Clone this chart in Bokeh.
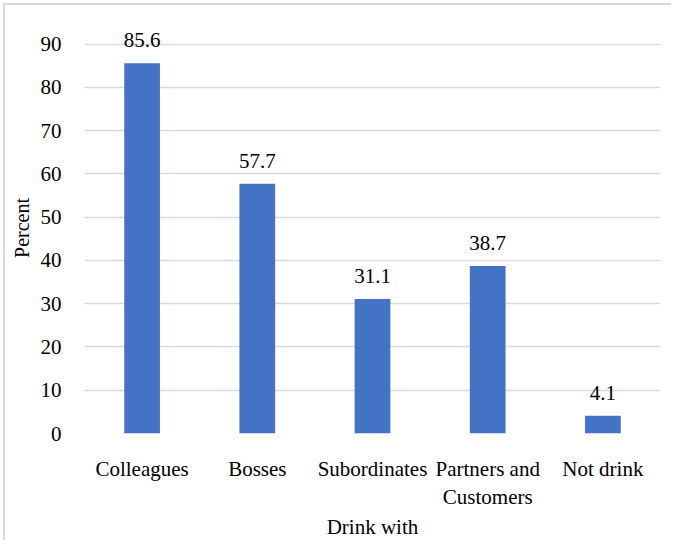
from bokeh.plotting import figure
from bokeh.models import ColumnDataSource, FactorRange, Range1d, FixedTicker
from bokeh.core.properties import value
from bokeh.embed import file_html
from bokeh.resources import INLINE

categories = ["Colleagues", "Bosses", "Subordinates", "Partners and\nCustomers", "Not drink"]
percents = [85.6, 57.7, 31.1, 38.7, 4.1]
y_ticks = [0, 10, 20, 30, 40, 50, 60, 70, 80, 90]

FONT = "'Liberation Serif', 'Times New Roman', serif"

source = ColumnDataSource(data=dict(
    cat=categories,
    val=percents,
    lbl=["%.1f" % v for v in percents],
))

p = figure(
    x_range=FactorRange(*categories),
    y_range=Range1d(0, 95),
    width=668, height=537,
    output_backend="svg", toolbar_location=None,
    min_border_left=79, min_border_right=13,
    min_border_top=17, min_border_bottom=108,
)
p.margin = (5, 0, 0, 5)
p.styles = {"box-shadow": "-2px -2px 0 #d9d9d9"}
p.outline_line_color = None
p.background_fill_color = "white"
p.border_fill_color = "white"

p.vbar(x="cat", top="val", width=0.31, source=source,
       fill_color="#4472C4", line_color=None)

p.text(x="cat", y="val", text="lbl", source=source,
       text_font=value(FONT), text_font_size="21px", text_color="black",
       text_align="center", text_baseline="alphabetic", y_offset=-23)

p.xgrid.grid_line_color = None
p.ygrid.grid_line_color = "#d9d9d9"
p.ygrid.grid_line_width = 1.5

p.yaxis.ticker = FixedTicker(ticks=y_ticks)
for ax in (p.xaxis[0], p.yaxis[0]):
    ax.axis_line_color = None
    ax.major_tick_line_color = None
    ax.minor_tick_line_color = None
    ax.major_tick_out = 0
    ax.major_tick_in = 0
    ax.major_label_text_font = FONT
    ax.major_label_text_font_size = "21px"
    ax.major_label_text_color = "black"
    ax.axis_label_text_font = FONT
    ax.axis_label_text_font_style = "normal"
    ax.axis_label_text_color = "black"

p.yaxis.axis_label = "Percent"
p.yaxis.axis_label_text_font_size = "20px"
p.yaxis.major_label_standoff = 23
p.yaxis.axis_label_standoff = 5

p.xaxis.axis_label = "Drink with"
p.xaxis.axis_label_text_font_size = "21px"
p.xaxis.major_label_standoff = 23
p.xaxis.axis_label_standoff = 3
p.xaxis.major_label_orientation = "horizontal"

open("out.html", "w").write(file_html(p, INLINE))
